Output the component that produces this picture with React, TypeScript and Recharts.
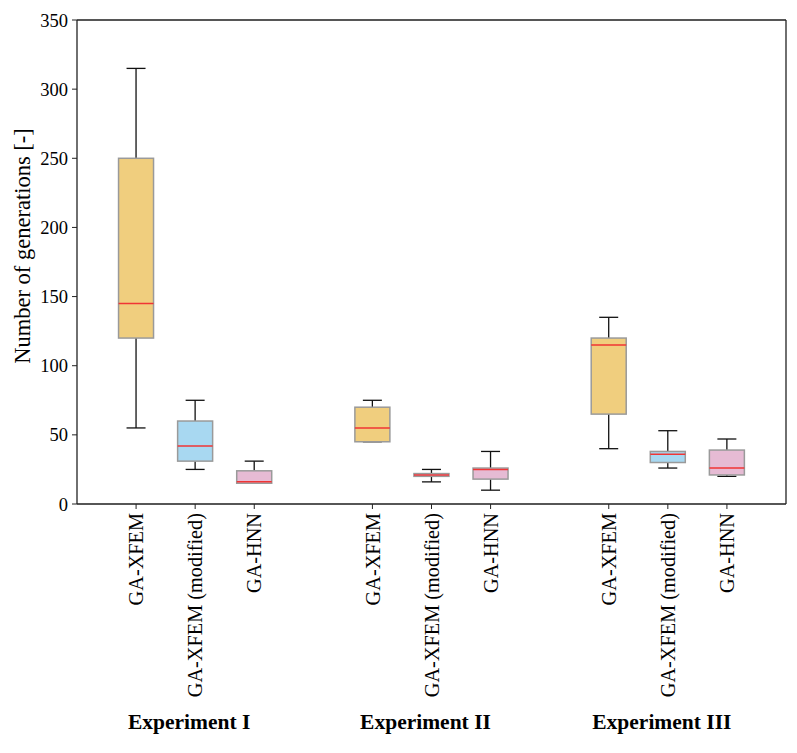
import React from "react";
import {
  ComposedChart, Bar, XAxis, YAxis, CartesianGrid, ReferenceLine,
} from "recharts";

// box plot stats
const METHODS = ["GA-XFEM", "GA-XFEM (modified)", "GA-HNN"];
const POSITIONS = [1, 2, 3, 5, 6, 7, 9, 10, 11];
const LABELS = [
  "GA-XFEM", "GA-XFEM (modified)", "GA-HNN",
  "GA-XFEM", "GA-XFEM (modified)", "GA-HNN",
  "GA-XFEM", "GA-XFEM (modified)", "GA-HNN",
];
const WHISKER_LOW = [55, 25, 15, 45, 16, 10, 40, 26, 20];
const Q1 = [120, 31, 15, 45, 20, 18, 65, 30, 21];
const MEDIAN = [145, 42, 16, 55, 21, 25, 115, 36, 26];
const Q3 = [250, 60, 24, 70, 22, 26, 120, 38, 39];
const WHISKER_HIGH = [315, 75, 31, 75, 25, 38, 135, 53, 47];

const GROUPS = ["Experiment I", "Experiment II", "Experiment III"];
const GROUP_POS = [2, 6, 10];
const Y_TICKS = [0, 50, 100, 150, 200, 250, 300, 350];

const COLORS = ["#F0CE7E", "#A8D8F1", "#E6BBD4"];
const FONT = "'Liberation Serif', 'Times New Roman', serif";

const data = POSITIONS.map((pos, i) => ({
  pos,
  label: LABELS[i],
  method: METHODS.indexOf(LABELS[i]),
  range: [WHISKER_LOW[i], WHISKER_HIGH[i]],
  q1: Q1[i],
  median: MEDIAN[i],
  q3: Q3[i],
  low: WHISKER_LOW[i],
  high: WHISKER_HIGH[i],
}));

function BoxShape(props: any) {
  const { x, y, width, height, payload } = props;
  const { low, high, q1, q3, median, method } = payload;
  const ppu = height / (high - low);
  const toY = (v: number) => y + (high - v) * ppu;
  const cx = x + width / 2;
  const cap = 19;
  return (
    <g>
      <line x1={cx} x2={cx} y1={toY(high)} y2={toY(q3)} stroke="#111" strokeWidth={1.3} />
      <line x1={cx} x2={cx} y1={toY(q1)} y2={toY(low)} stroke="#111" strokeWidth={1.3} />
      <line x1={cx - cap / 2} x2={cx + cap / 2} y1={toY(high)} y2={toY(high)} stroke="#111" strokeWidth={1.3} />
      <line x1={cx - cap / 2} x2={cx + cap / 2} y1={toY(low)} y2={toY(low)} stroke="#111" strokeWidth={1.3} />
      <rect
        x={x}
        y={toY(q3)}
        width={width}
        height={toY(q1) - toY(q3)}
        fill={COLORS[method]}
        stroke="#9a9a9a"
        strokeWidth={1.5}
      />
      <line x1={x} x2={x + width} y1={toY(median)} y2={toY(median)} stroke="#F03535" strokeWidth={1.5} />
    </g>
  );
}

function MethodTick(props: any) {
  const { x, y, payload } = props;
  const i = POSITIONS.indexOf(payload.value);
  if (i < 0) return null;
  return (
    <text
      transform={`translate(${x},${y + 2}) rotate(-90)`}
      textAnchor="end"
      dy="0.35em"
      fontSize={20.3}
      fontFamily={FONT}
      fill="#000"
    >
      {LABELS[i]}
    </text>
  );
}

function GroupTick(props: any) {
  const { x, y, payload } = props;
  const i = GROUP_POS.indexOf(payload.value);
  if (i < 0) return null;
  return (
    <text x={x - 6} y={y + 24} dy="0.35em" textAnchor="middle" fontSize={21.5} fontWeight="bold" fontFamily={FONT} fill="#000">
      {GROUPS[i]}
    </text>
  );
}

function YLabel(props: any) {
  const { viewBox } = props;
  const cx = viewBox.x + 22;
  const cy = viewBox.y + viewBox.height / 2 - 16;
  return (
    <text
      transform={`translate(${cx},${cy}) rotate(-90)`}
      textAnchor="middle"
      dy="0.35em"
      fontSize={22.5}
      fontFamily={FONT}
      fill="#000"
    >
      Number of generations [-]
    </text>
  );
}

export default function App() {
  return (
    <div style={{ position: "absolute", left: 0, top: 0, background: "#fff" }}>
      <ComposedChart
        width={797}
        height={753}
        data={data}
        margin={{ top: 20, right: 11, left: 0, bottom: 0 }}
      >
        <CartesianGrid horizontal vertical={false} stroke="#e6e6e6" strokeWidth={1} />
        <XAxis
          xAxisId="a"
          dataKey="pos"
          type="number"
          domain={[0, 12]}
          ticks={POSITIONS}
          interval={0}
          height={185}
          tick={<MethodTick />}
          tickSize={5}
          axisLine={{ stroke: "#222", strokeWidth: 1.3 }}
          tickLine={{ stroke: "#222" }}
        />
        <XAxis
          xAxisId="b"
          dataKey="pos"
          type="number"
          domain={[0, 12]}
          ticks={GROUP_POS}
          interval={0}
          height={64}
          tick={<GroupTick />}
          axisLine={false}
          tickLine={false}
        />
        <YAxis
          yAxisId="left"
          type="number"
          domain={[0, 350]}
          ticks={Y_TICKS}
          interval={0}
          width={77}
          tickSize={5}
          tickMargin={4}
          tick={{ fontSize: 18.5, fontFamily: FONT, fill: "#000" }}
          axisLine={{ stroke: "#222", strokeWidth: 1.3 }}
          tickLine={{ stroke: "#222" }}
          label={<YLabel />}
        />
        <ReferenceLine xAxisId="a" yAxisId="left" y={350} stroke="#222" strokeWidth={1.3} />
        <ReferenceLine xAxisId="a" yAxisId="left" x={12} stroke="#222" strokeWidth={1.3} />
        <Bar
          xAxisId="a"
          yAxisId="left"
          dataKey="range"
          barSize={35}
          shape={<BoxShape />}
          isAnimationActive={false}
        />
      </ComposedChart>
    </div>
  );
}
